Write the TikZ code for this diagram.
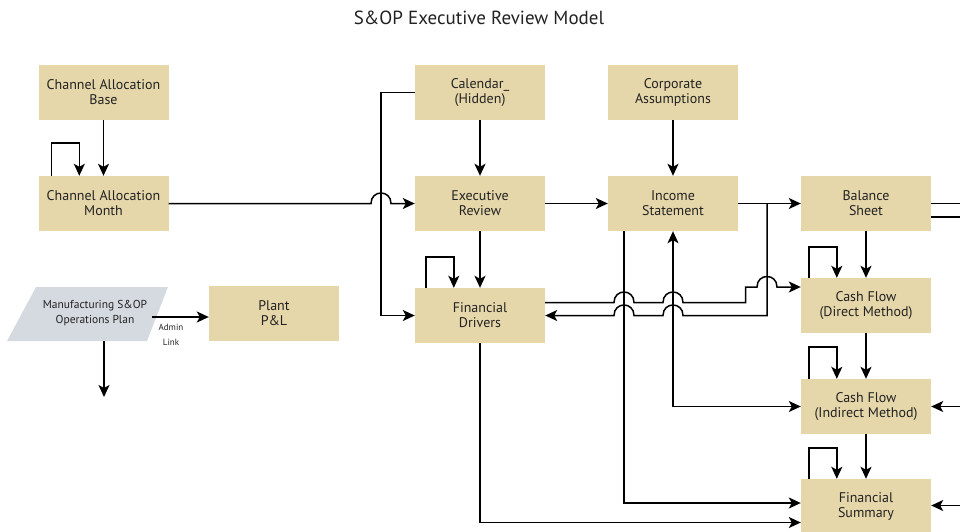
\documentclass[tikz,border=0pt]{standalone}
\usepackage{fontspec}
\setmainfont{PT Sans}
\usetikzlibrary{arrows.meta}
\definecolor{boxtan}{HTML}{E6D7AA}
\definecolor{paragray}{HTML}{D5DAE0}
\definecolor{txt}{HTML}{222222}
\begin{document}
\begin{tikzpicture}[x=1pt,y=-1pt,
  box/.style={fill=boxtan, minimum width=130pt, minimum height=55pt, inner sep=0pt, align=center, text=txt, font=\fontsize{14}{15}\selectfont},
  conn/.style={line width=1.5pt, -{Stealth[length=12pt,width=11pt,inset=3pt]}},
  bconn/.style={line width=1.5pt, {Stealth[length=12pt,width=11pt,inset=3pt]}-{Stealth[length=12pt,width=11pt,inset=3pt]}},
  ln/.style={line width=1.5pt},
  small/.style={text=txt, font=\fontsize{9}{10}\selectfont},
]
\useasboundingbox (0,0) rectangle (960,531);

\node[text=txt, font=\fontsize{19}{22}\selectfont] (title) at (479,18) {S\&OP Executive Review Model};

% nodes
\node[box] (base) at (103.5,92.5) {Channel Allocation\\Base};
\node[box] (month) at (103.5,203.5) {Channel Allocation\\Month};
\node[box] (plant) at (274,313.5) {Plant\\P\&L};
\node[box] (cal) at (480,92.5) {Calendar\_\\(Hidden)};
\node[box] (exec) at (480,203.5) {Executive\\Review};
\node[box] (fd) at (480,315.5) {Financial\\Drivers};
\node[box] (corp) at (673,92.5) {Corporate\\Assumptions};
\node[box] (inc) at (673,203.5) {Income\\Statement};
\node[box] (bs) at (866,203.5) {Balance\\Sheet};
\node[box] (cfd) at (866,305.5) {Cash Flow\\(Direct Method)};
\node[box] (cfi) at (866,406.5) {Cash Flow\\(Indirect Method)};
\node[box] (fs) at (866,506.5) {Financial\\Summary};

% parallelogram
\fill[paragray] (36,287) -- (168,287) -- (147,341) -- (7,341) -- cycle;
\node[text=txt, align=center, font=\fontsize{11.5}{15}\selectfont] (mfg) at (95,313) {Manufacturing S\&OP\\Operations Plan};
\coordinate (mfgout) at (152,317);
\coordinate (mfgbot) at (104,341);
\coordinate (down) at (104,397);
\draw[conn] (mfgout) -- (plant.west |- mfgout);
\node[small] (admin) at (171,327) {Admin};
\node[small] (link) at (171,342) {Link};
\draw[conn] (mfgbot) -- (down);

% left column
\draw[conn] (base.south) -- (month.north);
\draw[conn] ([xshift=13pt]month.north west) -- ++(0,-33) -| ([xshift=41pt]month.north west);
\draw[conn] (month.east) -- (371,203.5) .. controls (371,189.5) and (391,189.5) .. (391,203.5) -- (exec.west);

% calendar
\draw[conn] (cal.west) -- ++(-34,0) |- (fd.west);
\draw[conn] (cal.south) -- (exec.north);
\draw[conn] (exec.east) -- (inc.west);
\draw[conn] (exec.south) -- (fd.north);
\draw[conn] ([xshift=11pt]fd.north west) -- ++(0,-31) -| ([xshift=39pt]fd.north west);

% income
\draw[conn] (corp.south) -- (inc.north);
\draw[conn] (inc.east) -- (bs.west);
\coordinate (split) at (767,203.5);
\draw[conn] (split) -- (767,315.5) -- (683,315.5) .. controls (683,301.5) and (663,301.5) .. (663,315.5)
  -- (634,315.5) .. controls (634,301.5) and (614,301.5) .. (614,315.5) -- (fd.east);
\draw[conn] ([yshift=13pt]fd.east) -- (614,302.5) .. controls (614,288.5) and (634,288.5) .. (634,302.5)
  -- (663,302.5) .. controls (663,288.5) and (683,288.5) .. (683,302.5) -- (745.5,302.5) -- (745.5,287)
  -- (757,287) .. controls (757,273) and (777,273) .. (777,287) -- ([yshift=18.5pt]cfd.west);
\draw[conn] ([xshift=-49pt]inc.south) |- ([yshift=3.5pt]fs.west);
\draw[bconn] (inc.south) |- (cfi.west);
\draw[conn] (fd.south) |- ([yshift=-16pt]fs.west);

% right column
\draw[conn] (bs.south) -- (cfd.north);
\draw[conn] ([xshift=8pt]cfd.north west) -- ++(0,-31) -| ([xshift=36pt]cfd.north west);
\draw[conn] (cfd.south) -- (cfi.north);
\draw[conn] ([xshift=8pt]cfi.north west) -- ++(0,-32) -| ([xshift=36pt]cfi.north west);
\draw[conn] (cfi.south) -- (fs.north);
\draw[conn] ([xshift=8pt]fs.north west) -- ++(0,-31) -| ([xshift=36pt]fs.north west);

% right edge
\coordinate (e1) at (960,203.5);
\coordinate (e2) at (960,217);
\coordinate (e3) at (960,406.5);
\coordinate (e4) at (960,505.5);
\draw[ln] (bs.east) -- (e1);
\draw[ln] ([yshift=-13.5pt]bs.east) -- (e2);
\draw[conn] (e3) -- (cfi.east);
\draw[conn] (e4) -- (fs.east |- e4);
\end{tikzpicture}
\end{document}
